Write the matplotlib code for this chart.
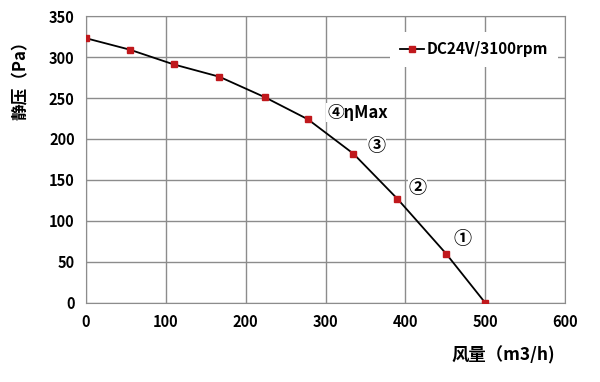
import matplotlib.pyplot as plt

plt.rcParams['font.family'] = ['Noto Sans CJK SC', 'DejaVu Sans']

# Data
flow = [0, 55, 110, 167, 224, 278, 335, 390, 451, 500]
pressure = [323, 309, 291, 276, 251, 224, 182, 127, 60, 0]
series_label = 'DC24V/3100rpm'
points = ['④ηMax', '③', '②', '①']
point_pos = [(340, 232), (364, 192), (415, 141), (471, 79)]

fig = plt.figure(figsize=(6, 3.82), dpi=100)
ax = fig.add_axes([0.143, 0.207, 0.799, 0.751])

ax.plot(flow, pressure, color='black', lw=1.3, marker='s', ms=4,
        mfc='#c0181c', mec='#c0181c', label=series_label, zorder=3)

ax.set_xlim(0, 600)
ax.set_ylim(0, 350)
ax.set_xticks(range(0, 601, 100))
ax.set_yticks(range(0, 351, 50))
ax.grid(True, color='#8c8c8c', lw=1)
for s in ax.spines.values():
    s.set_color('#8c8c8c')
ax.tick_params(length=0, labelsize=10.5, pad=8)
for t in ax.get_xticklabels() + ax.get_yticklabels():
    t.set_fontweight('bold')

for txt, (px, py) in zip(points, point_pos):
    fs = 12 if len(txt) > 1 else 13
    ax.text(px, py, txt, fontsize=fs, fontweight='bold', ha='center', va='center',
            bbox=dict(facecolor='white', edgecolor='none', pad=0.5), zorder=4)

leg = ax.legend(loc='upper right', bbox_to_anchor=(1.0, 0.97), frameon=True,
                fancybox=False, edgecolor='none', framealpha=1,
                handlelength=1.6, handletextpad=0.2, borderpad=0.6,
                prop={'weight': 'bold', 'size': 11})

fig.text(0.035, 0.8, '静压（Pa）', rotation=90, fontsize=12, fontweight='bold',
         ha='center', va='center')
fig.text(0.925, 0.07, '风量（m3/h)', fontsize=12.5, fontweight='bold',
         ha='right', va='center')

fig.savefig('out.png', dpi=100)
